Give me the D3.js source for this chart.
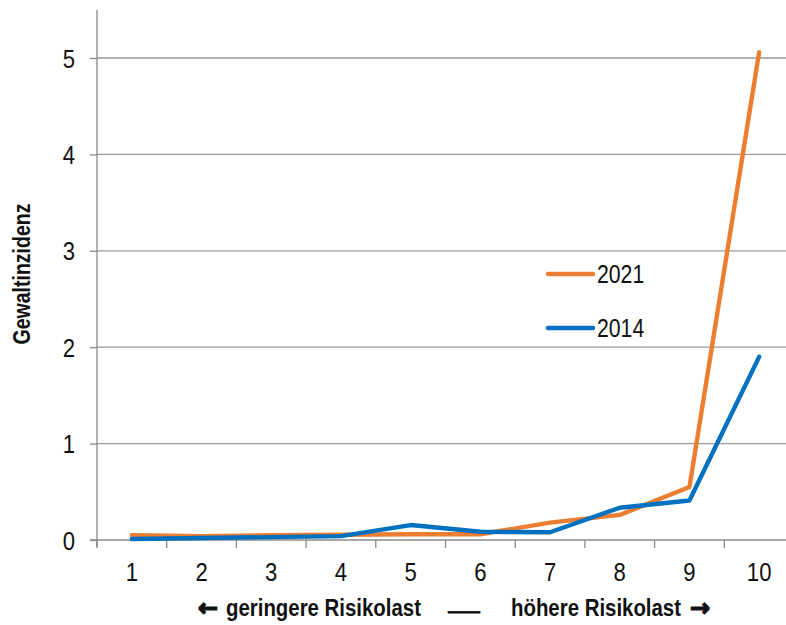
<!DOCTYPE html>
<html><head><meta charset="utf-8">
<script src="https://cdn.jsdelivr.net/npm/d3@7"></script>
<style>body{margin:0;background:#fff}svg{display:block}</style>
</head><body>
<svg id="c" width="786" height="625"></svg>
<script>
const categories = ["1","2","3","4","5","6","7","8","9","10"];
const values2021 = [0.05,0.04,0.05,0.055,0.06,0.06,0.18,0.26,0.55,5.06];
const values2014 = [0.01,0.02,0.03,0.04,0.155,0.086,0.08,0.335,0.41,1.90];
const yTicks = [0,1,2,3,4,5];
const seriesNames = ["2021","2014"];
const colors = ["#ED7D31","#0070C0"];
const font = "'Liberation Sans',Arial,sans-serif";
const SX = 0.85;

const svg = d3.select("#c");
const x = d3.scaleBand().domain(categories).range([97,794]);
const y = d3.scaleLinear().domain([0,5]).range([540,58]);

function squeeze(sel){
  sel.each(function(){
    const t = d3.select(this);
    const tx = +t.attr("x")||0;
    t.attr("x",0).attr("transform",`translate(${tx},0) scale(${SX},1)`);
  });
}

// gridlines
svg.append("g").selectAll("line").data(yTicks.filter(d=>d>0)).join("line")
  .attr("x1",97).attr("x2",786).attr("y1",d=>y(d)).attr("y2",d=>y(d))
  .attr("stroke","#9a9a9a").attr("stroke-width",1.3);

// y axis
const ya = svg.append("g").attr("transform","translate(97,0)")
  .call(d3.axisLeft(y).tickValues(yTicks).tickSize(7).tickPadding(15).tickFormat(d3.format("d")));
ya.select(".domain").remove();
ya.append("line").attr("x1",0).attr("x2",0).attr("y1",10).attr("y2",547).attr("stroke","#8a8a8a").attr("stroke-width",1.3);
ya.selectAll(".tick line").attr("stroke","#8a8a8a").attr("stroke-width",1.3);
ya.selectAll("text").attr("font-family",font).attr("font-size",26).attr("fill","#111")
  .attr("dy",null).attr("y",9).call(squeeze);

// x axis
const xa = svg.append("g").attr("transform","translate(0,540)")
  .call(d3.axisBottom(x).tickSize(0).tickPadding(22));
xa.select(".domain").attr("stroke","#8a8a8a").attr("stroke-width",1.3).attr("d","M90,0H786");
xa.selectAll("text").attr("font-family",font).attr("font-size",26).attr("fill","#111")
  .attr("dy",null).attr("y",41).call(squeeze);
xa.append("g").selectAll("line").data(categories).join("line")
  .attr("x1",d=>x(d)).attr("x2",d=>x(d)).attr("y1",0).attr("y2",8)
  .attr("stroke","#8a8a8a").attr("stroke-width",1.3);

// lines (2021 underneath, 2014 on top)
const line = d3.line().x((d,i)=>x(categories[i])+x.bandwidth()/2).y(d=>y(d));
[values2021, values2014].forEach((vals,k)=>{
  svg.append("path").datum(vals).attr("d",line).attr("fill","none")
    .attr("stroke",colors[k]).attr("stroke-width",4.4)
    .attr("stroke-linejoin","round").attr("stroke-linecap","round");
});

// legend
const legY = [274,328];
seriesNames.forEach((n,i)=>{
  svg.append("line").attr("x1",548).attr("x2",593).attr("y1",legY[i]).attr("y2",legY[i])
    .attr("stroke",colors[i]).attr("stroke-width",4.4).attr("stroke-linecap","round");
  svg.append("text").attr("transform",`translate(597,${legY[i]+9}) scale(${SX},1)`).text(n)
    .attr("font-family",font).attr("font-size",25).attr("fill","#111");
});

// axis titles
svg.append("text").attr("transform",`translate(30,274) rotate(-90) scale(${SX},1)`).attr("text-anchor","middle")
  .attr("font-family",font).attr("font-size",23).attr("font-weight","bold").attr("fill","#111")
  .text("Gewaltinzidenz");

const BY = 616;
const tf = svg.append("g").attr("font-weight","bold").attr("fill","#111");
tf.append("text").attr("x",208).attr("y",BY).attr("text-anchor","middle")
  .attr("stroke","#111").attr("stroke-width",1.3)
  .attr("font-family","'DejaVu Sans',sans-serif").attr("font-size",24).text("\u2190");
tf.append("text").attr("transform",`translate(226,${BY}) scale(${SX},1)`)
  .attr("font-family",font).attr("font-size",24).text("geringere Risikolast");
tf.append("text").attr("x",448).attr("y",BY+2).attr("textLength",32).attr("lengthAdjust","spacingAndGlyphs")
  .attr("stroke","#111").attr("stroke-width",0.8)
  .attr("font-family",font).attr("font-size",24).attr("font-weight","normal").text("\u2014\u2014");
tf.append("text").attr("transform",`translate(511,${BY}) scale(${SX},1)`)
  .attr("font-family",font).attr("font-size",24).text("höhere Risikolast");
tf.append("text").attr("x",700).attr("y",BY).attr("text-anchor","middle")
  .attr("stroke","#111").attr("stroke-width",1.3)
  .attr("font-family","'DejaVu Sans',sans-serif").attr("font-size",24).text("\u2192");
</script>
</body></html>
